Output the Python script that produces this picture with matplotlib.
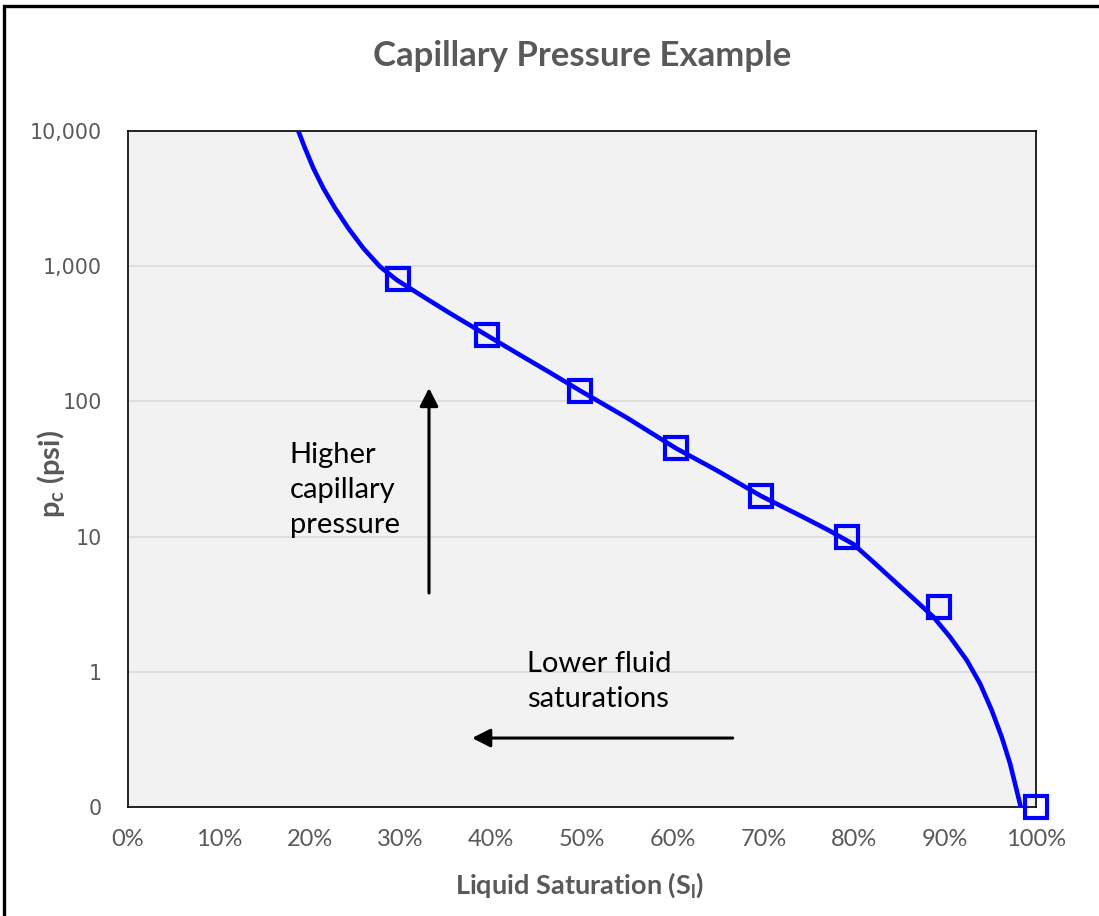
import matplotlib
matplotlib.use('Agg')
import matplotlib.pyplot as plt
from matplotlib.ticker import FuncFormatter, PercentFormatter, FixedLocator, NullLocator
from matplotlib.patches import Rectangle

plt.rcParams['font.family'] = ['Lato', 'DejaVu Sans']
plt.rcParams['mathtext.fontset'] = 'custom'
plt.rcParams['mathtext.rm'] = 'Lato:bold'
plt.rcParams['mathtext.it'] = 'Lato:bold'

# measured points (liquid saturation, capillary pressure psi)
sat_pts = [0.297, 0.395, 0.498, 0.6035, 0.697, 0.792, 0.8935, 1.0]
pc_pts = [800, 310, 120, 45, 20, 10, 3, 0.1]

# fitted curve
sat_curve = [0.1876, 0.1949, 0.2041, 0.2151, 0.2280, 0.2426, 0.2591, 0.2775,
             0.2959, 0.325, 0.355, 0.395, 0.43, 0.465, 0.498, 0.549, 0.6035,
             0.648, 0.697, 0.743, 0.771, 0.7988, 0.8208, 0.8428, 0.8649, 0.8869,
             0.9053, 0.9237, 0.9383, 0.9512, 0.9622, 0.9714, 0.9787, 0.9832]
pc_curve = [10000, 7470, 5315, 3780, 2688, 1911, 1360, 993,
            792, 596, 447, 309, 224, 163, 120, 76, 45,
            31, 20, 14, 11.2, 8.8, 6.5, 4.76, 3.49, 2.55,
            1.81, 1.22, 0.82, 0.52, 0.33, 0.21, 0.133, 0.1]

y_ticks = [0.1, 1, 10, 100, 1000, 10000]
x_ticks = [0, 0.1, 0.2, 0.3, 0.4, 0.5, 0.6, 0.7, 0.8, 0.9, 1.0]

gray = '#595959'
blue = '#0000FF'

fig = plt.figure(figsize=(10.99, 9.16), dpi=100)
ax = fig.add_axes([128 / 1099, 109 / 916, 908 / 1099, 676 / 916])
ax.set_facecolor('#F2F2F2')

ax.plot(sat_curve, pc_curve, color=blue, lw=3.3, solid_joinstyle='round', zorder=3)
ax.plot(sat_pts, pc_pts, ls='none', marker='s', ms=15.5, mfc='none', mec=blue,
        mew=3.0, clip_on=False, zorder=4)

ax.set_yscale('log')
ax.set_ylim(0.1, 10000)
ax.set_xlim(0, 1)
ax.yaxis.set_major_locator(FixedLocator(y_ticks))
ax.yaxis.set_minor_locator(NullLocator())
ax.yaxis.set_major_formatter(FuncFormatter(lambda v, p: f'{v:,.0f}'))
ax.xaxis.set_major_locator(FixedLocator(x_ticks))
ax.xaxis.set_major_formatter(PercentFormatter(1.0, decimals=0))
ax.grid(axis='y', color='#D9D9D9', lw=1.1)
ax.set_axisbelow(True)
ax.tick_params(axis='both', length=0)
ax.tick_params(axis='y', pad=19, labelcolor=gray)
ax.tick_params(axis='x', pad=16, labelcolor=gray, labelsize=17)
for lab in ax.get_yticklabels():
    lab.set_fontfamily('DejaVu Sans')
    lab.set_fontsize(14.8)
for sp in ax.spines.values():
    sp.set_color('black')
    sp.set_linewidth(1.2)

# annotations
arrow = dict(arrowstyle='-|>,head_length=0.55,head_width=0.28', mutation_scale=20,
             lw=2.2, color='black', shrinkA=0, shrinkB=0)
ax.annotate('', xy=(0.3315, 0.6198), xytext=(0.3315, 0.3166), xycoords='axes fraction',
            arrowprops=arrow)
ax.annotate('', xy=(0.379, 0.102), xytext=(0.666, 0.102), xycoords='axes fraction',
            arrowprops=arrow)
ax.text(0.178, 0.469, 'Higher\ncapillary\npressure', transform=ax.transAxes,
        ha='left', va='center', fontsize=21, linespacing=1.45, color='black')
ax.text(0.4394, 0.186, 'Lower fluid\nsaturations', transform=ax.transAxes,
        ha='left', va='center', fontsize=21, linespacing=1.45, color='black')

fig.text(582 / 1099, 1 - 56 / 916, 'Capillary Pressure Example', ha='center',
         va='center', fontsize=25, fontweight='bold', color=gray)
fig.text(580 / 1099, 1 - 885 / 916, r'Liquid Saturation (S$_\mathrm{l}$)', ha='center',
         va='center', fontsize=19.5, fontweight='bold', color=gray)
fig.text(51 / 1099, 1 - 474 / 916, r'p$_\mathrm{c}$ (psi)', ha='center',
         va='center', fontsize=21, fontweight='bold', color=gray, rotation=90)

# outer chart frame
fig.patches.append(Rectangle((4 / 1099, -0.05), 1.1, 1.05 - 6 / 916, fill=False,
                             ec='black', lw=2.4, transform=fig.transFigure))

fig.savefig('out.png', dpi=100)
